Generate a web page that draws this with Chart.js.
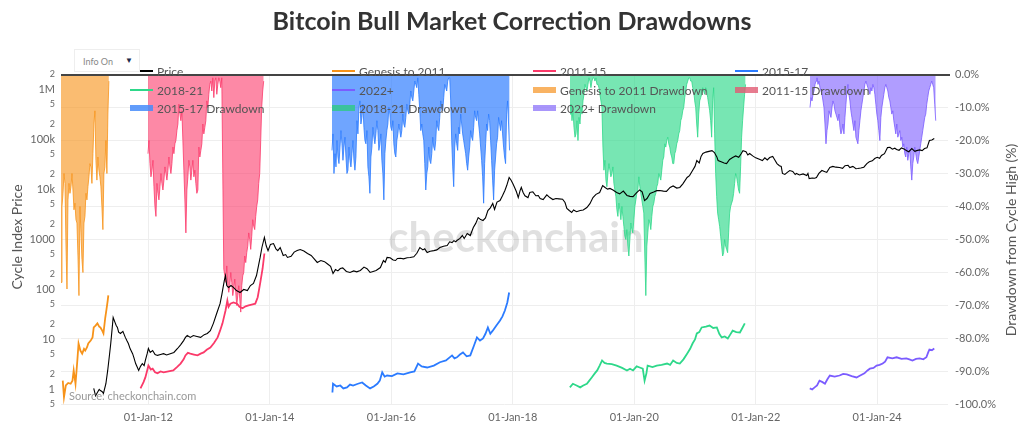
<!DOCTYPE html>
<html><head><meta charset="utf-8">
<script src="https://cdn.jsdelivr.net/npm/chart.js@4.4.1/dist/chart.umd.min.js"></script>
<style>
html,body{margin:0;padding:0;background:#fff;}
#wrap{position:relative;width:1024px;height:433px;overflow:hidden;font-family:Lato,"Open Sans",sans-serif;}
#c{position:absolute;left:0;top:0;}
#title{position:absolute;left:0;width:1024px;top:5px;text-align:center;font-weight:700;font-size:25px;color:#333;line-height:30px;}
#info{position:absolute;left:74px;top:49px;width:66px;height:23px;background:#fff;border:1px solid #eee;box-sizing:border-box;font-size:9px;color:#888;}
#info .t{position:absolute;left:8px;top:6px;}
#info .tri{position:absolute;left:50px;top:5px;color:#1d2a4a;font-size:8px;}
#src{position:absolute;left:69px;top:389px;font-size:11px;color:#999;}
.rot{position:absolute;width:320px;text-align:center;font-size:14px;color:#555;line-height:18px;transform:rotate(-90deg);transform-origin:50% 50%;}
#ylab{left:-143px;top:228px;}
#y2lab{left:851px;top:231px;}
</style></head>
<body><div id="wrap"><canvas id="c" width="1024" height="433"></canvas>
<div id="title">Bitcoin Bull Market Correction Drawdowns</div>
<div id="info"><span class="t">Info On</span><span class="tri">▼</span></div>
<div id="src">Source: checkonchain.com</div>
<div id="ylab" class="rot">Cycle Index Price</div>
<div id="y2lab" class="rot">Drawdown from Cycle High (%)</div>
</div>
<script>
// ---------- DATA ----------
const xTickYears = [2012, 2014, 2016, 2018, 2020, 2022, 2024];
const leftTickValues = [0.5,1,2,5,10,20,50,100,200,500,1000,2000,5000,1e4,2e4,5e4,1e5,2e5,5e5,1e6,2e6];
const rightTickValues = [0,-10,-20,-30,-40,-50,-60,-70,-80,-90,-100];

const price = [[2011.10,1.05],[2011.13,0.75],[2011.16,0.87],[2011.19,1.0],[2011.21,0.95],[2011.24,0.9],[2011.26,0.83],[2011.30,1.3],[2011.33,2.4],[2011.36,5],[2011.38,8.3],[2011.40,15],[2011.42,27.5],[2011.45,22],[2011.47,19],[2011.49,17.4],[2011.51,14],[2011.54,13.2],[2011.58,14.5],[2011.62,11],[2011.645,9.5],[2011.67,8.3],[2011.70,6.5],[2011.74,5.2],[2011.76,4.4],[2011.79,3.3],[2011.81,2.9],[2011.84,2.4],[2011.87,2.9],[2011.90,3.3],[2011.93,3.0],[2011.95,3.8],[2011.98,5.2],[2012.00,6.6],[2012.03,5.5],[2012.07,6.0],[2012.11,5.0],[2012.15,4.8],[2012.20,5.0],[2012.25,5.2],[2012.30,4.9],[2012.36,5.2],[2012.42,5.5],[2012.48,6.6],[2012.53,7.8],[2012.58,9.5],[2012.61,11],[2012.64,12],[2012.69,11],[2012.74,12],[2012.80,11.5],[2012.86,11],[2012.92,12.5],[2012.97,13.2],[2013.02,15],[2013.07,21],[2013.12,32],[2013.18,52],[2013.21,80],[2013.23,110],[2013.25,150],[2013.27,190],[2013.29,120],[2013.32,110],[2013.36,120],[2013.40,110],[2013.45,95],[2013.51,87],[2013.57,100],[2013.63,95],[2013.68,120],[2013.73,132],[2013.78,190],[2013.84,437],[2013.87,700],[2013.91,1100],[2013.94,750],[2013.97,600],[2014.01,800],[2014.06,830],[2014.10,650],[2014.13,600],[2014.17,690],[2014.22,480],[2014.26,500],[2014.29,437],[2014.35,460],[2014.40,560],[2014.45,600],[2014.50,630],[2014.56,590],[2014.62,525],[2014.68,480],[2014.73,410],[2014.78,347],[2014.84,380],[2014.90,360],[2014.94,331],[2015.00,290],[2015.04,209],[2015.08,250],[2015.12,235],[2015.16,263],[2015.20,270],[2015.26,230],[2015.32,219],[2015.38,235],[2015.43,225],[2015.49,240],[2015.55,280],[2015.60,260],[2015.65,219],[2015.70,230],[2015.75,240],[2015.82,275],[2015.87,380],[2015.90,350],[2015.93,437],[2015.98,430],[2016.03,390],[2016.07,380],[2016.10,417],[2016.15,420],[2016.20,410],[2016.26,430],[2016.31,437],[2016.37,450],[2016.42,530],[2016.47,690],[2016.52,620],[2016.55,650],[2016.59,550],[2016.64,580],[2016.70,600],[2016.75,620],[2016.80,690],[2016.86,730],[2016.92,760],[2016.96,900],[2017.00,870],[2017.03,950],[2017.06,900],[2017.08,955],[2017.13,1050],[2017.17,1200],[2017.20,1050],[2017.25,1320],[2017.30,1200],[2017.35,1740],[2017.39,2100],[2017.43,2750],[2017.47,2500],[2017.51,2400],[2017.55,2700],[2017.59,3800],[2017.63,4300],[2017.67,5250],[2017.70,4000],[2017.74,5600],[2017.79,6000],[2017.83,7500],[2017.87,9550],[2017.90,12000],[2017.94,17400],[2017.97,15500],[2018.00,13200],[2018.03,11000],[2018.06,9000],[2018.09,6900],[2018.12,9500],[2018.14,11000],[2018.17,8700],[2018.20,7500],[2018.25,6900],[2018.28,8700],[2018.33,9000],[2018.38,7500],[2018.42,7600],[2018.45,6600],[2018.50,6300],[2018.56,7800],[2018.61,6900],[2018.66,6300],[2018.71,6600],[2018.76,6500],[2018.82,6400],[2018.86,5500],[2018.89,4200],[2018.93,3800],[2018.97,3470],[2019.00,3900],[2019.05,3600],[2019.11,3800],[2019.16,3900],[2019.22,4370],[2019.27,5200],[2019.32,6900],[2019.37,8000],[2019.43,8700],[2019.48,12000],[2019.52,11000],[2019.56,10200],[2019.60,10500],[2019.65,9800],[2019.71,8700],[2019.76,8200],[2019.82,9300],[2019.88,7600],[2019.93,7300],[2019.98,7200],[2020.04,8700],[2020.09,9800],[2020.13,9000],[2020.17,6000],[2020.21,6600],[2020.26,8300],[2020.32,8900],[2020.37,9500],[2020.42,9550],[2020.48,9300],[2020.53,9200],[2020.59,11000],[2020.64,11800],[2020.70,10700],[2020.75,11000],[2020.80,13000],[2020.87,17400],[2020.91,19000],[2020.96,24000],[2021.00,29000],[2021.03,38000],[2021.07,34000],[2021.10,46000],[2021.13,52500],[2021.18,56000],[2021.23,58000],[2021.28,60000],[2021.32,55000],[2021.36,45000],[2021.38,38000],[2021.43,36000],[2021.48,34000],[2021.52,33000],[2021.57,40000],[2021.62,43600],[2021.67,47000],[2021.72,44000],[2021.76,52000],[2021.79,60000],[2021.84,57000],[2021.87,49000],[2021.90,52500],[2021.95,47000],[2022.00,43000],[2022.07,40000],[2022.11,38000],[2022.15,43000],[2022.19,39000],[2022.23,43600],[2022.28,46000],[2022.31,40000],[2022.35,33000],[2022.39,30000],[2022.42,29000],[2022.44,21000],[2022.48,20000],[2022.52,22000],[2022.56,24000],[2022.61,23000],[2022.65,20000],[2022.67,21000],[2022.72,19500],[2022.78,20500],[2022.84,19000],[2022.86,21000],[2022.88,16600],[2022.93,17000],[2022.97,16800],[2023.00,17400],[2023.04,21000],[2023.09,24000],[2023.13,23000],[2023.17,22000],[2023.22,27500],[2023.27,29000],[2023.32,28000],[2023.38,27500],[2023.43,26500],[2023.47,30000],[2023.52,30500],[2023.55,27500],[2023.60,29000],[2023.65,26000],[2023.68,26300],[2023.73,27000],[2023.78,28000],[2023.83,33000],[2023.87,36000],[2023.92,37500],[2023.96,41700],[2024.00,44000],[2024.04,42000],[2024.07,47900],[2024.12,52000],[2024.17,69000],[2024.21,70000],[2024.25,64000],[2024.29,67000],[2024.32,63000],[2024.36,61000],[2024.40,68000],[2024.45,64000],[2024.48,60000],[2024.52,57000],[2024.57,66000],[2024.62,58000],[2024.65,60000],[2024.70,62000],[2024.74,60000],[2024.78,66000],[2024.82,68000],[2024.86,95500],[2024.90,98000],[2024.94,105000]];

const genesis = [[2010.59,1.5],[2010.61,0.7],[2010.64,1.2],[2010.68,1.35],[2010.72,1.3],[2010.75,1.5],[2010.77,2.4],[2010.80,1.3],[2010.83,3.8],[2010.85,8.3],[2010.88,6.0],[2010.91,5.2],[2010.94,6.5],[2010.96,6.0],[2010.99,7.0],[2011.01,8.3],[2011.05,9.5],[2011.08,11],[2011.10,17.4],[2011.13,19],[2011.16,21],[2011.19,18],[2011.21,17.4],[2011.24,15],[2011.26,13.2],[2011.29,27.5],[2011.31,40],[2011.33,60],[2011.34,76]];

const cycle1115 = [[2011.87,1.05],[2011.92,1.4],[2011.95,1.74],[2011.98,2.4],[2012.00,3.0],[2012.04,2.5],[2012.07,2.6],[2012.11,2.2],[2012.15,2.1],[2012.20,2.3],[2012.25,2.2],[2012.33,2.3],[2012.41,2.4],[2012.47,2.8],[2012.53,3.3],[2012.58,4.0],[2012.61,4.8],[2012.65,5.4],[2012.69,5.2],[2012.75,5.0],[2012.81,4.8],[2012.86,5.2],[2012.91,5.5],[2012.96,6.2],[2013.02,6.9],[2013.08,8.5],[2013.14,11],[2013.18,15],[2013.22,21],[2013.25,30],[2013.27,38],[2013.30,60],[2013.32,45],[2013.35,52],[2013.40,55],[2013.46,52],[2013.50,45],[2013.55,42],[2013.60,46],[2013.65,48],[2013.70,50],[2013.76,52],[2013.80,70],[2013.84,132],[2013.88,260],[2013.91,525]];

const cycle1517 = [[2015.03,0.87],[2015.04,1.3],[2015.10,1.15],[2015.16,1.2],[2015.21,1.05],[2015.27,1.1],[2015.32,1.25],[2015.37,1.2],[2015.45,1.3],[2015.52,1.38],[2015.58,1.2],[2015.65,1.05],[2015.71,1.15],[2015.77,1.3],[2015.81,1.5],[2015.85,2.2],[2015.89,1.8],[2015.93,1.9],[2016.01,1.85],[2016.10,2.1],[2016.20,2.0],[2016.31,2.2],[2016.38,2.3],[2016.44,3.3],[2016.50,2.9],[2016.59,2.75],[2016.70,3.0],[2016.80,3.5],[2016.90,3.8],[2017.00,4.8],[2017.04,4.2],[2017.08,4.4],[2017.13,5.0],[2017.18,5.5],[2017.24,4.6],[2017.30,4.8],[2017.36,7.5],[2017.41,11],[2017.46,9.5],[2017.51,10.5],[2017.55,13],[2017.59,17.4],[2017.63,13],[2017.67,15],[2017.73,19],[2017.79,24],[2017.83,29],[2017.87,38],[2017.91,55],[2017.94,87]];

const cycle1821 = [[2018.94,1.1],[2018.99,1.3],[2019.05,1.2],[2019.11,1.1],[2019.16,1.2],[2019.22,1.3],[2019.26,1.5],[2019.30,1.74],[2019.35,2.1],[2019.39,2.4],[2019.43,3.0],[2019.47,3.8],[2019.51,3.4],[2019.55,3.3],[2019.63,3.2],[2019.71,3.0],[2019.80,2.7],[2019.88,2.4],[2019.93,2.6],[2019.98,2.4],[2020.04,2.9],[2020.09,2.75],[2020.14,2.6],[2020.17,1.5],[2020.20,2.1],[2020.22,3.0],[2020.30,2.8],[2020.37,3.0],[2020.45,3.1],[2020.54,3.3],[2020.59,3.1],[2020.64,3.8],[2020.70,3.4],[2020.75,3.3],[2020.81,4.0],[2020.87,5.2],[2020.92,6.5],[2020.96,8.3],[2021.00,10],[2021.03,13.2],[2021.07,14],[2021.11,17.4],[2021.18,18],[2021.24,19],[2021.30,17],[2021.36,17.4],[2021.40,13],[2021.44,11],[2021.49,11.5],[2021.54,10.5],[2021.58,12.5],[2021.62,15],[2021.68,14],[2021.74,13.8],[2021.78,17],[2021.82,21]];

const cycle22 = [[2022.89,1.05],[2022.93,1.0],[2022.97,1.1],[2023.01,1.2],[2023.05,1.5],[2023.10,1.4],[2023.14,1.3],[2023.18,1.6],[2023.22,1.9],[2023.30,1.8],[2023.38,1.9],[2023.44,2.05],[2023.50,2.0],[2023.58,1.85],[2023.66,1.74],[2023.72,1.9],[2023.79,2.1],[2023.84,2.4],[2023.88,2.6],[2023.94,2.7],[2023.99,3.0],[2024.04,3.1],[2024.09,3.3],[2024.13,3.6],[2024.17,4.4],[2024.25,4.2],[2024.32,4.4],[2024.40,4.1],[2024.48,4.2],[2024.53,4.0],[2024.58,3.8],[2024.64,4.1],[2024.70,4.2],[2024.76,4.0],[2024.81,4.4],[2024.84,5.5],[2024.86,6.3],[2024.90,6.1],[2024.94,6.6]];

// drawdowns (%), sampled every 6 days from each start date
const ddStepYears = 6 / 365.25;
const ddGenesisStart = 2010.561;
const ddGenesis = [-63,-40,-36,-30,-33,-52,-65,-38,-33,-36,-34,-30,-35,-41,-39,-44,-45,-55,-67,-40,-48,-56,-60,-45,-43,-36,-38,-34,-31,-27,-28,-33,-24,-15,-11,-26,-32,-25,-29,-31,-34,-40,-47,-30,-28,-20,-30,-12,-2];
const dd1115Start = 2011.993;
const dd1115 = [-24,-20,-27,-31,-29,-26,-34,-40,-43,-33,-36,-38,-34,-30,-33,-35,-32,-28,-30,-32,-29,-25,-28,-30,-27,-22,-24,-21,-20,-17,-15,-9,-12,-14,-11,-20,-29,-38,-48,-35,-31,-26,-28,-32,-29,-26,-31,-29,-33,-36,-35,-22,-25,-23,-21,-15,-18,-16,-14,-8,-10,-6,-3,-2,-5,-1,-7,-2,-1,-6,-3,-1,-2,-4,-1,-30,-59,-61,-63,-58,-64,-66,-64,-60,-63,-67,-65,-62,-66,-70,-67,-64,-68,-72,-64,-61,-60,-55,-57,-54,-52,-48,-50,-53,-49,-44,-46,-47,-43,-40,-38,-33,-30,-20,-10,-5,-2];
const dd1517Start = 2015.023;
const dd1517 = [-23,-18,-30,-24,-28,-20,-25,-27,-22,-17,-21,-26,-22,-19,-25,-30,-29,-22,-26,-28,-24,-20,-26,-29,-25,-14,-18,-10,-8,-15,-13,-9,-16,-20,-21,-17,-28,-31,-36,-25,-22,-16,-19,-21,-18,-14,-17,-23,-21,-18,-26,-30,-38,-24,-20,-17,-15,-10,-12,-16,-17,-14,-21,-24,-25,-20,-18,-15,-17,-19,-17,-12,-15,-16,-13,-9,-11,-12,-9,-5,-7,-8,-5,-2,-3,-4,-1,-6,-11,-17,-15,-18,-20,-27,-35,-30,-28,-22,-26,-27,-24,-19,-22,-23,-20,-14,-16,-17,-13,-8,-10,-11,-7,-3,-4,-5,-2,-1,-1,-8,-20,-28,-34,-22,-18,-21,-23,-16,-18,-12,-15,-18,-20,-22,-24,-27,-29,-25,-22,-17,-19,-20,-16,-11,-13,-14,-11,-15,-18,-22,-26,-31,-39,-27,-21,-15,-17,-12,-14,-20,-26,-32,-38,-29,-25,-21,-19,-13,-15,-17,-14,-18,-22,-25,-27,-12,-8,-15,-23];
const dd1821Start = 2018.942;
const dd1821 = [-12,-9,-14,-11,-16,-19,-18,-14,-20,-13,-15,-10,-12,-8,-6,-3,-4,-5,-3,-1,-2,-4,-2,-1,-1,-2,-1,-3,-3,-4,-6,-8,-10,-22,-29,-26,-32,-34,-30,-27,-29,-31,-30,-28,-33,-35,-37,-41,-43,-39,-41,-44,-40,-43,-46,-49,-50,-47,-52,-55,-50,-45,-47,-48,-44,-40,-38,-36,-35,-31,-34,-36,-38,-40,-42,-55,-67,-52,-48,-44,-45,-47,-43,-40,-39,-37,-36,-34,-33,-30,-31,-32,-29,-26,-25,-21,-22,-20,-19,-21,-22,-24,-25,-27,-27,-24,-23,-21,-20,-18,-17,-14,-13,-11,-10,-7,-5,-3,-2,-1,-1,-2,-2,-4,-5,-8,-10,-15,-19,-12,-8,-7,-6,-4,-5,-6,-4,-5,-7,-9,-11,-14,-19,-8,-4,-18,-30,-37,-42,-44,-46,-49,-52,-55,-54,-50,-52,-53,-54,-48,-42,-40,-39,-38,-36,-33,-30,-31,-33,-35,-36,-28,-19,-14,-10,-6,-3];
const dd22Start = 2022.894;
const dd22 = [-10,-7,-8,-6,-5,-3,-2,-1,-3,-2,-4,-5,-6,-8,-10,-15,-21,-17,-15,-11,-12,-13,-10,-8,-9,-11,-12,-13,-14,-12,-16,-18,-17,-15,-18,-13,-9,-5,-3,-6,-8,-11,-13,-15,-17,-14,-19,-20,-21,-17,-14,-11,-9,-7,-5,-3,-2,-3,-4,-5,-6,-4,-5,-3,-4,-6,-9,-12,-14,-17,-20,-13,-10,-8,-6,-4,-3,-4,-5,-7,-8,-10,-12,-11,-14,-16,-18,-15,-19,-18,-17,-20,-19,-22,-21,-24,-25,-22,-26,-24,-23,-28,-32,-27,-25,-22,-24,-26,-27,-25,-23,-21,-19,-17,-15,-13,-12,-9,-7,-5,-4,-3,-2,-3,-4,-9,-14];

// ---------- BUILD ----------
const pts = arr => arr.map(([x, y]) => ({x, y}));
const ddPts = (start, arr) => arr.map((v, i) => ({x: start + i * ddStepYears, y: v}));

function lineDs(label, data, color, w) {
  return {label, data: pts(data), borderColor: color, backgroundColor: color, borderWidth: w,
    pointRadius: 0, fill: false, tension: 0, yAxisID: 'y', isDD: false};
}
function ddDs(label, start, data, line, fillc, legendColor) {
  return {label, data: ddPts(start, data), borderColor: line, backgroundColor: fillc, borderWidth: 1,
    pointRadius: 0, fill: 'origin', tension: 0, yAxisID: 'y2', isDD: true, legendColor};
}

const datasets = [
  lineDs('Price', price, '#000000', 1.1),
  lineDs('Genesis to 2011', genesis, '#f7931a', 1.8),
  lineDs('2011-15', cycle1115, '#fb3a6a', 1.8),
  lineDs('2015-17', cycle1517, '#2b7bff', 1.8),
  lineDs('2018-21', cycle1821, '#2ed88a', 1.8),
  lineDs('2022+', cycle22, '#7b5cff', 1.8),
  ddDs('Genesis to 2011 Drawdown', ddGenesisStart, ddGenesis, 'rgba(247,147,26,0.8)', 'rgba(247,147,26,0.62)', 'rgba(247,160,60,0.8)'),
  ddDs('2011-15 Drawdown', dd1115Start, dd1115, 'rgba(251,58,106,0.8)', 'rgba(251,58,106,0.6)', 'rgba(225,90,115,0.8)'),
  ddDs('2015-17 Drawdown', dd1517Start, dd1517, 'rgba(43,123,255,0.8)', 'rgba(43,123,255,0.68)', 'rgba(70,140,250,0.85)'),
  ddDs('2018-21 Drawdown', dd1821Start, dd1821, 'rgba(46,216,138,0.8)', 'rgba(46,216,138,0.65)', 'rgba(50,200,140,0.85)'),
  ddDs('2022+ Drawdown', dd22Start, dd22, 'rgba(123,92,255,0.8)', 'rgba(123,92,255,0.6)', 'rgba(140,115,250,0.75)')
];

const legendCols = [130, 332, 533, 735];
const legendRows = [71, 90, 108];

const decorPlugin = {
  id: 'decor',
  beforeDatasetsDraw(chart) {
    const ctx = chart.ctx;
    ctx.save();
    ctx.font = 'bold 42px Lato, "Open Sans", sans-serif';
    ctx.fillStyle = 'rgba(0,0,0,0.12)';
    ctx.textAlign = 'center';
    ctx.textBaseline = 'middle';
    ctx.fillText('checkonchain', 516, 238);
    ctx.restore();
  },
  afterDatasetsDraw(chart) {
    const ctx = chart.ctx, a = chart.chartArea;
    ctx.save();
    ctx.strokeStyle = '#444';
    ctx.lineWidth = 2;
    ctx.beginPath();
    ctx.moveTo(a.left, a.top + 0.5);
    ctx.lineTo(a.right + 2, a.top + 0.5);
    ctx.stroke();
    chart.data.datasets.forEach((ds, i) => {
      const x = legendCols[i % 4], y = legendRows[Math.floor(i / 4)];
      if (ds.isDD) {
        ctx.fillStyle = ds.legendColor;
        ctx.fillRect(x, y - 3, 23, 6);
      } else {
        ctx.strokeStyle = ds.borderColor;
        ctx.lineWidth = 2;
        ctx.beginPath(); ctx.moveTo(x, y); ctx.lineTo(x + 23, y); ctx.stroke();
      }
      ctx.fillStyle = '#555';
      ctx.font = '12px Lato, "Open Sans", sans-serif';
      ctx.textAlign = 'left';
      ctx.textBaseline = 'middle';
      ctx.fillText(ds.label, x + 27, y + 1);
    });
    ctx.restore();
  }
};

function leftLabel(v) {
  const e = Math.round(Math.log10(v) * 1000) / 1000;
  const m = v / Math.pow(10, Math.floor(e + 1e-9));
  if (Math.abs(m - 1) < 1e-6) {
    if (v >= 1e6) return (v / 1e6) + 'M';
    if (v >= 1e4) return (v / 1e3) + 'k';
    return String(v);
  }
  return String(Math.round(m));
}
function isDecade(v) { const l = Math.log10(v); return Math.abs(l - Math.round(l)) < 1e-6; }

new Chart(document.getElementById('c'), {
  type: 'line',
  data: {datasets},
  options: {
    responsive: false, animation: false, devicePixelRatio: 1,
    parsing: false, normalized: true,
    layout: {padding: {top: 74.5, left: 0, right: 0, bottom: 0}},
    plugins: {legend: {display: false}, tooltip: {enabled: false}, title: {display: false}},
    scales: {
      x: {
        type: 'linear', min: 2010.561, max: 2025.166, position: 'bottom',
        afterBuildTicks: s => { s.ticks = xTickYears.map(v => ({value: v})); },
        afterFit: s => { s.height = 28.5; },
        ticks: {autoSkip: false, maxRotation: 0, padding: 6, color: '#666',
          font: {size: 11, family: 'Lato, "Open Sans", sans-serif'},
          callback: v => '01-Jan-' + String(v).slice(2)},
        grid: {color: '#eeeeee', drawTicks: false}, border: {display: false}
      },
      y: {
        type: 'logarithmic', min: 0.5, max: 2e6, position: 'left',
        afterBuildTicks: s => { s.ticks = leftTickValues.map(v => ({value: v})); },
        afterFit: s => { s.width = 61; },
        ticks: {autoSkip: false, padding: 6, color: '#666',
          font: ctx => ({size: (ctx.tick && isDecade(ctx.tick.value)) ? 11 : 9, family: 'Lato, "Open Sans", sans-serif'}),
          callback: v => leftLabel(v)},
        grid: {display: false, drawTicks: false}, border: {display: false}
      },
      y2: {
        type: 'linear', min: -100, max: 0, position: 'right',
        afterBuildTicks: s => { s.ticks = rightTickValues.map(v => ({value: v})); },
        afterFit: s => { s.width = 76; },
        ticks: {autoSkip: false, padding: 7, color: '#666',
          font: {size: 11, family: 'Lato, "Open Sans", sans-serif'},
          callback: v => v.toFixed(1) + '%'},
        grid: {color: '#eeeeee', drawTicks: false}, border: {display: false}
      }
    }
  },
  plugins: [decorPlugin]
});
</script>
</body></html>
